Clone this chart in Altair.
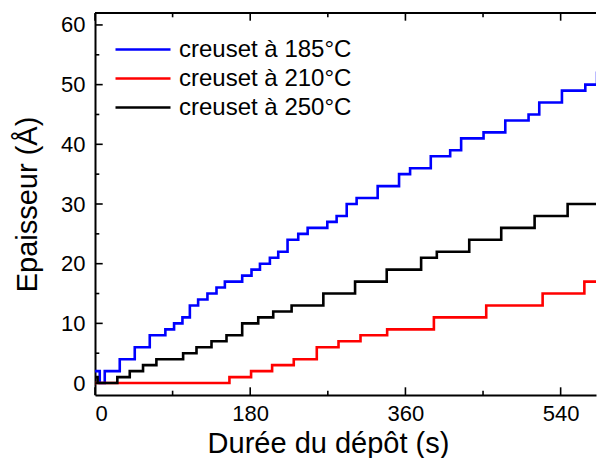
import altair as alt
import pandas as pd

series_names = ["creuset à 185°C", "creuset à 210°C", "creuset à 250°C"]
series_colors = ["#0000ff", "#ff0000", "#000000"]

t_185 = [0, 5.5, 11.3, 28.7, 46.1, 63.5, 81.6, 91.7, 101.4, 110, 119.6, 130.4, 140.9, 150.6,
         170.7, 181.5, 191.3, 202.8, 212.5, 223.3, 235.7, 246.6, 269.4, 280.2, 291.9, 303.4,
         327.8, 352.6, 365.4, 389.4, 411.9, 424.6, 450.6, 475.8, 502.8, 515.2, 541.5, 568.6,
         582.2, 600]
v_185 = [2, 0, 2, 4, 6, 8, 9, 10, 11, 13, 14, 15, 16, 17, 18, 19, 20, 21, 22, 24, 25, 26, 27,
         28, 30, 31, 33, 35, 36, 38, 39, 41, 42, 44, 45, 47, 49, 50, 52, 52]

t_210 = [0, 155.9, 181, 205.4, 230.5, 257.2, 282.4, 307.9, 338.8, 393, 453.7, 519.1, 567.5, 600]
v_210 = [0, 1, 2, 3, 4, 6, 7, 8, 9, 11, 13, 15, 17, 17]

t_250 = [0, 3, 25.9, 40.3, 55.7, 71.2, 102.2, 117.7, 135.1, 152.5, 170.7, 189.3, 206.7, 228,
         264.8, 301.6, 338.3, 378.2, 396.4, 434, 471.1, 509.8, 548.1, 587.3, 600]
v_250 = [1, 0, 1, 2, 3, 4, 5, 6, 7, 8, 10, 11, 12, 13, 15, 17, 19, 21, 22, 24, 26, 28, 30, 32, 32]

x_major = [0, 180, 360, 540]
x_minor = [90, 270, 450]
y_major = [0, 10, 20, 30, 40, 50, 60]
y_minor = [5, 15, 25, 35, 45, 55]

FONT = "Liberation Sans"
W, H = 501, 382

rows = []
for name, ts, vs in zip(series_names, [t_185, t_210, t_250], [v_185, v_210, v_250]):
    for t, v in zip(ts, vs):
        rows.append({"serie": name, "t": t, "e": v})
df = pd.DataFrame(rows)

xscale = alt.Scale(domain=[0, 581], nice=False, zero=False)
yscale = alt.Scale(domain=[-2, 62], nice=False, zero=False)

x_axis = alt.Axis(values=x_major, ticks=False, domain=True, domainColor="black",
                  domainWidth=2, grid=False,
                  labelFontSize=22, labelFont=FONT, labelColor="black",
                  labelPadding=8, title="Durée du dépôt (s)",
                  titleFontSize=29, titleFont=FONT, titleFontWeight="normal",
                  titleColor="black", titleX=233,
                  titleAlign="center", titleBaseline="alphabetic", titleY=57)
y_axis = alt.Axis(values=y_major, ticks=False, domain=True, domainColor="black",
                  domainWidth=2, grid=False,
                  labelFontSize=22, labelFont=FONT, labelColor="black",
                  labelPadding=10, title="Epaisseur  (Å)", titlePadding=18,
                  titleFontSize=29, titleFont=FONT, titleFontWeight="normal",
                  titleColor="black")

lines = alt.Chart(df).mark_line(interpolate="step-after", strokeWidth=2.6, clip=True).encode(
    x=alt.X("t:Q", scale=xscale, axis=x_axis),
    y=alt.Y("e:Q", scale=yscale, axis=y_axis),
    color=alt.Color("serie:N", scale=alt.Scale(domain=series_names, range=series_colors),
                    legend=alt.Legend(orient="none", legendX=19, legendY=25, title=None,
                                      symbolType="stroke", symbolSize=3025,
                                      symbolStrokeWidth=2.6, labelFontSize=24,
                                      labelFont=FONT, labelColor="black", padding=0,
                                      rowPadding=4, labelOffset=7, clipHeight=23,
                                      labelLimit=400)),
)

def tick_layer(values, channel, length, side):
    d = pd.DataFrame({"t": values, "e": values})
    base = alt.Chart(d).mark_rule(color="black", strokeWidth=1.6)
    if channel == "y":
        enc = dict(y=alt.Y("e:Q", scale=yscale, axis=y_axis),
                   x=alt.value(0), x2=alt.value(length))
    else:
        enc = dict(x=alt.X("t:Q", scale=xscale, axis=x_axis))
        if side == "bottom":
            enc.update(y=alt.value(H), y2=alt.value(H - length))
        else:
            enc.update(y=alt.value(0), y2=alt.value(length))
    return base.encode(**enc)

ticks = [
    tick_layer(y_major, "y", 7.7, "left"), tick_layer(y_minor, "y", 4.3, "left"),
    tick_layer(x_major, "x", 7.7, "bottom"), tick_layer(x_minor, "x", 4.3, "bottom"),
    tick_layer(x_major, "x", 7.7, "top"), tick_layer(x_minor, "x", 4.3, "top"),
]

frame = alt.Chart(pd.DataFrame({"t": [0]})).mark_rule(color="black", strokeWidth=2).encode(
    x=alt.value(0), x2=alt.value(W), y=alt.value(0)
)

chart = alt.layer(lines, *ticks, frame).properties(
    width=W, height=H, padding={"left": 5, "top": 4, "right": 0, "bottom": 0}
).configure_view(strokeWidth=0)

chart.save("out.html", embed_options={"renderer": "svg", "actions": False})
